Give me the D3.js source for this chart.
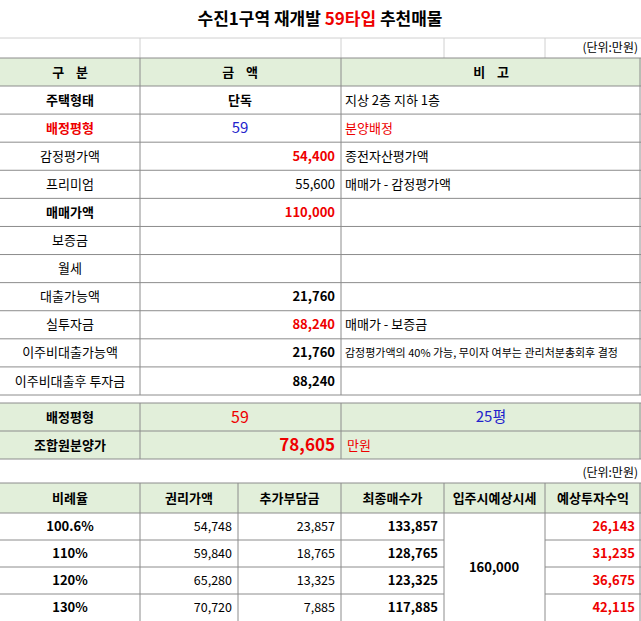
<!DOCTYPE html>
<html><head><meta charset="utf-8">
<script src="https://cdn.jsdelivr.net/npm/d3@7"></script>
<style>body{margin:0;background:#fff}svg{font-family:"Noto Sans CJK KR",sans-serif}text{white-space:pre}</style>
</head><body><svg id="c" width="641" height="621"></svg>
<script>
// top table
var labels = ["주택형태","배정평형","감정평가액","프리미엄","매매가액","보증금","월세","대출가능액","실투자금","이주비대출가능액","이주비대출후 투자금"];
var amounts = ["단독","59","54,400","55,600","110,000","","","21,760","88,240","21,760","88,240"];
var notes = ["지상 2층 지하 1층","분양배정","종전자산평가액","매매가 - 감정평가액","","","","","매매가 - 보증금","감정평가액의 40% 가능, 무이자 여부는 관리처분총회후 결정",""];
// lower table
var ratios = ["100.6%","110%","120%","130%"];
var rights = ["54,748","59,840","65,280","70,720"];
var extra = ["23,857","18,765","13,325","7,885"];
var finalPrice = ["133,857","128,765","123,325","117,885"];
var marketPrice = "160,000";
var profit = ["26,143","31,235","36,675","42,115"];
var heads2 = ["비례율","권리가액","추가부담금","최종매수가","입주시예상시세","예상투자수익"];

var svg = d3.select("#c"), G = "#e2efda", L = "#d0d0d0", D = "#8c8c8c";
var xs = [0,140,238,341,444,545,641];

function txt(x,y,s,o){o=o||{};svg.append("text").attr("x",x).attr("y",y).attr("dy","0.35em")
  .attr("text-anchor",o.a||"middle").attr("font-size",o.s||13).attr("font-weight",o.b?"bold":"normal")
  .attr("fill",o.c||"#000").attr("xml:space","preserve").text(s);}
function rect(x,y,w,h,f,st){svg.append("rect").attr("x",x).attr("y",y).attr("width",w).attr("height",h)
  .attr("fill",f||"none").attr("stroke",st||"none");}
function hl(x1,x2,y,c){svg.append("line").attr("x1",x1).attr("x2",x2).attr("y1",y).attr("y2",y).attr("stroke",c||L);}
function vl(x,y1,y2,c){svg.append("line").attr("x1",x).attr("x2",x).attr("y1",y1).attr("y2",y2).attr("stroke",c||L);}

// title
svg.append("text").attr("x",320).attr("y",19).attr("dy","0.35em").attr("text-anchor","middle")
  .attr("font-size",17).attr("font-weight","bold").call(function(t){
    t.append("tspan").text("수진1구역 재개발 ");
    t.append("tspan").attr("fill","#e00").text("59타입");
    t.append("tspan").text(" 추천매물");});
hl(0,641,38);
[140,341,444,545].forEach(function(x){vl(x,38,58);});
txt(638,48,"(단위:만원)",{a:"end",s:12});

// header
rect(0,58,641,28,G);
var y = d3.scaleBand().domain(d3.range(labels.length)).range([86,395]);
hl(0,641,58,D);hl(0,641,86,D);
txt(70,72,"구    분",{b:1});txt(240,72,"금    액",{b:1});txt(491,72,"비    고",{b:1});
labels.forEach(function(l,i){
  var cy = y(i)+y.bandwidth()/2;
  var bold = [0,1,4].indexOf(i)>=0, red = i==1;
  txt(70,cy,l,{b:bold,c:red?"#e00":"#000"});
  var a = amounts[i], o = {b:true,a:"end"}, ax = 335;
  if(i==0){o={b:1};ax=240;}
  if(i==1){o={c:"#22c",s:15};ax=240;}
  if(i==2||i==4||i==8)o.c="#e00";
  if(i==3)o.b=false;
  txt(ax,cy,a,o);
  txt(345,cy,notes[i],{a:"start",s:i==9?11:13,c:i==1?"#e00":"#000"});
  hl(0,641,y(i)+y.bandwidth(),D);
});
[140,341].forEach(function(x){vl(x,58,395,D);});
vl(640,58,395,D);

// summary block
rect(0,403,641,56,G);
hl(0,641,403,D);hl(0,641,431,D);hl(0,641,459,D);
vl(140,403,459,D);vl(341,403,459,D);vl(640,403,459,D);
txt(70,417,"배정평형",{b:1});txt(240,417,"59",{c:"#e00",s:16});txt(491,417,"25평",{c:"#22c",s:15});
txt(70,445,"조합원분양가",{b:1});txt(335,445,"78,605",{a:"end",b:1,c:"#e00",s:17});
txt(347,445,"만원",{a:"start",c:"#e00"});
txt(638,473,"(단위:만원)",{a:"end",s:12});

// lower table
rect(0,483,641,30,G);
hl(0,641,483,D);hl(0,641,513,D);
heads2.forEach(function(h,j){txt((xs[j]+xs[j+1])/2,498,h,{b:1});});
var y2 = d3.scaleBand().domain(d3.range(ratios.length)).range([513,621]);
ratios.forEach(function(r,i){
  var cy = y2(i)+y2.bandwidth()/2;
  txt(70,cy,r,{b:1});
  txt(232,cy,rights[i],{a:"end",s:12.5});
  txt(335,cy,extra[i],{a:"end",s:12.5});
  txt(438,cy,finalPrice[i],{a:"end",b:1});
  txt(635,cy,profit[i],{a:"end",b:1,c:"#e00"});
  if(i<ratios.length-1){hl(0,444,y2(i)+y2.bandwidth(),D);hl(545,641,y2(i)+y2.bandwidth(),D);}
});
txt(494,y2(0)+y2.bandwidth()*2,marketPrice,{b:1});
xs.slice(1).forEach(function(x){vl(x===641?640:x,483,621,D);});
</script></body></html>
